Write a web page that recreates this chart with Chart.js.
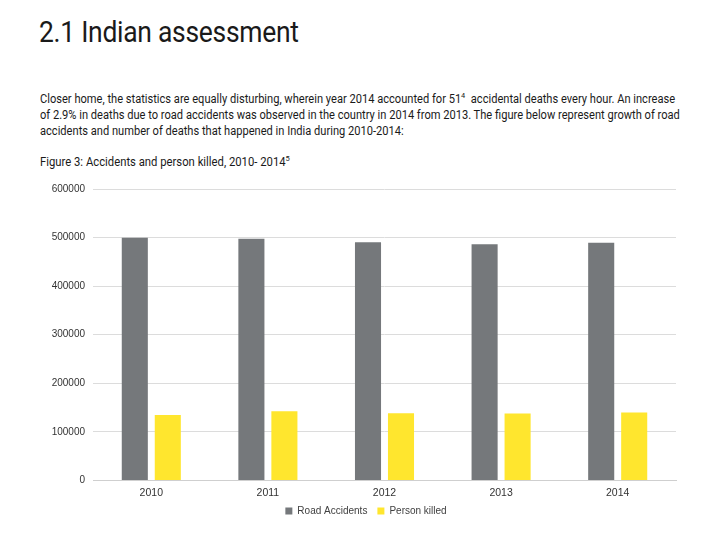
<!DOCTYPE html>
<html><head><meta charset="utf-8">
<script src="https://cdn.jsdelivr.net/npm/chart.js@4"></script>
<style>
html,body{margin:0;padding:0;background:#fff;width:724px;height:543px;overflow:hidden;}
.t{position:absolute;font-family:"Roboto",sans-serif;color:#1a1a1a;white-space:nowrap;transform-origin:0 0;}
#title{left:39px;top:15px;font-size:29px;transform:scaleX(0.912);letter-spacing:-0.3px;}
#para{left:40px;top:91px;font-size:12px;line-height:16px;transform:scaleX(0.925);}
#cap{left:40px;top:155px;font-size:12px;transform:scaleX(0.94);}
sup{font-size:8px;vertical-align:5px;line-height:0;}
#wrap{position:absolute;left:0;top:175px;width:724px;height:361px;}
</style></head><body>
<div id="title" class="t">2.1 Indian assessment</div>
<div id="para" class="t">Closer home, the statistics are equally disturbing, wherein year 2014 accounted for 51<sup>4</sup>&nbsp; accidental deaths every hour. An increase<br>of 2.9% in deaths due to road accidents was observed in the country in 2014 from 2013. The figure below represent growth of road<br>accidents and number of deaths that happened in India during 2010-2014:</div>
<div id="cap" class="t">Figure 3: Accidents and person killed, 2010- 2014<sup>5</sup></div>
<div id="wrap"><canvas id="c"></canvas></div>
<script>
const years = ["2010","2011","2012","2013","2014"];
const roadAccidents = [499628, 497686, 490383, 486476, 489400];
const personKilled = [134513, 142485, 138258, 137572, 139671];
const seriesNames = ["Road Accidents","Person killed"];

const tickFont = {family:"'Liberation Sans', Arial, sans-serif", size:10};
const xFont = {family:"'Liberation Sans', Arial, sans-serif", size:10.5};
const legendShift = {
  id:'legendShift',
  afterLayout(chart){ if(chart.legend){ chart.legend.left += 28; chart.legend.right += 28; } }
};
new Chart(document.getElementById('c'), {
  type:'bar',
  data:{
    labels: years,
    datasets:[
      {label:seriesNames[0], data:roadAccidents, backgroundColor:'#75787b', borderWidth:0, categoryPercentage:0.566, barPercentage:0.79},
      {label:seriesNames[1], data:personKilled, backgroundColor:'#ffe62e', borderWidth:0, categoryPercentage:0.566, barPercentage:0.79}
    ]
  },
  plugins:[legendShift],
  options:{
    responsive:true, maintainAspectRatio:false, animation:false,
    layout:{padding:{left:0,right:48,top:0,bottom:10}},
    plugins:{
      legend:{position:'bottom', labels:{boxWidth:7, boxHeight:7, padding:10, color:'#404040', font:tickFont}},
      tooltip:{enabled:false}
    },
    scales:{
      x:{grid:{display:false, drawTicks:false}, border:{color:'#cfcfcf'}, ticks:{color:'#333', font:xFont, padding:6},
         afterFit:(s)=>{s.height-=9;}},
      y:{min:0, max:600000, ticks:{stepSize:100000, color:'#333', font:tickFont, padding:8, callback:(v)=>String(v)},
         grid:{color:'#dcdcdc', drawTicks:false}, border:{display:false},
         afterFit:(s)=>{s.width=93;}}
    }
  }
});
</script>
</body></html>
